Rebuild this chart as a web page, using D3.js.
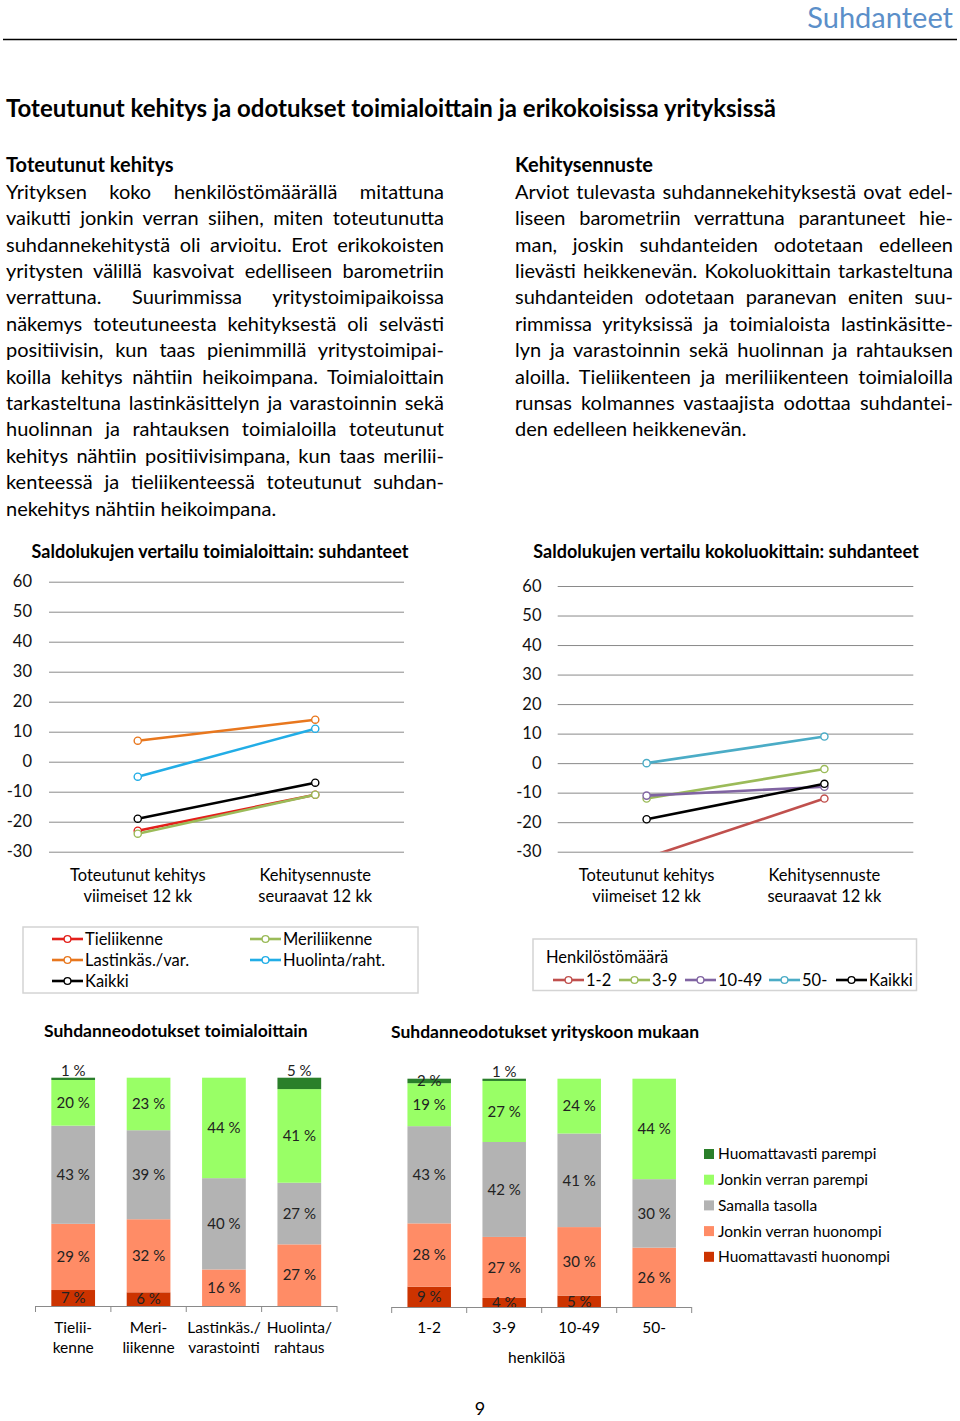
<!doctype html>
<html>
<head>
<meta charset="UTF-8">
<title>Suhdanteet</title>
<script src="https://d3js.org/d3.v7.min.js"></script>
<style>
  body { margin: 0; background: #fff; }
  svg { display: block; font-family: Lato, "Open Sans", sans-serif; }
</style>
</head>
<body>
<svg id="page" width="960" height="1421"></svg>
<script>
// ---- text ----
var pageTitle = "Suhdanteet";
var mainTitle = "Toteutunut kehitys ja odotukset toimialoittain ja erikokoisissa yrityksissä";
var leftHead = "Toteutunut kehitys";
var leftLines = [
  "Yrityksen koko henkilöstömäärällä mitattuna",
  "vaikutti jonkin verran siihen, miten toteutunutta",
  "suhdannekehitystä oli arvioitu. Erot erikokoisten",
  "yritysten välillä kasvoivat edelliseen barometriin",
  "verrattuna. Suurimmissa yritystoimipaikoissa",
  "näkemys toteutuneesta kehityksestä oli selvästi",
  "positiivisin, kun taas pienimmillä yritystoimipai-",
  "koilla kehitys nähtiin heikoimpana. Toimialoittain",
  "tarkasteltuna lastinkäsittelyn ja varastoinnin sekä",
  "huolinnan ja rahtauksen toimialoilla toteutunut",
  "kehitys nähtiin positiivisimpana, kun taas merilii-",
  "kenteessä ja tieliikenteessä toteutunut suhdan-",
  "nekehitys nähtiin heikoimpana."
];
var rightHead = "Kehitysennuste";
var rightLines = [
  "Arviot tulevasta suhdannekehityksestä ovat edel-",
  "liseen barometriin verrattuna parantuneet hie-",
  "man, joskin suhdanteiden odotetaan edelleen",
  "lievästi heikkenevän. Kokoluokittain tarkasteltuna",
  "suhdanteiden odotetaan paranevan eniten suu-",
  "rimmissa yrityksissä ja toimialoista lastinkäsitte-",
  "lyn ja varastoinnin sekä huolinnan ja rahtauksen",
  "aloilla. Tieliikenteen ja meriliikenteen toimialoilla",
  "runsas kolmannes vastaajista odottaa suhdantei-",
  "den edelleen heikkenevän."
];

// ---- line charts ----
var lineCats = [["Toteutunut kehitys", "viimeiset 12 kk"], ["Kehitysennuste", "seuraavat 12 kk"]];
var yTicks = [60, 50, 40, 30, 20, 10, 0, -10, -20, -30];

var branchNames = ["Tieliikenne", "Meriliikenne", "Lastinkäs./var.", "Huolinta/raht.", "Kaikki"];
var branchValues = [[-23, -11], [-24, -11], [7, 14], [-5, 11], [-19, -7]];
var branchColors = ["#e3201b", "#9bbb59", "#e8771e", "#22ade6", "#000000"];

var sizeNames = ["1-2", "3-9", "10-49", "50-", "Kaikki"];
var sizeValues = [[-32, -12], [-12, -2], [-11, -8], [0, 9], [-19, -7]];
var sizeColors = ["#c0504d", "#9bbb59", "#8064a2", "#4bacc6", "#000000"];

// ---- stacked bars ----
var levelNames = ["Huomattavasti parempi", "Jonkin verran parempi", "Samalla tasolla", "Jonkin verran huonompi", "Huomattavasti huonompi"];
var levelColors = ["#2a7f2a", "#99ff66", "#b3b3b3", "#ff8c66", "#cc3300"];

var branchCats = [["Tielii-", "kenne"], ["Meri-", "liikenne"], ["Lastinkäs./", "varastointi"], ["Huolinta/", "rahtaus"]];
var branchMuchBetter = [1, 0, 0, 5];
var branchBetter = [20, 23, 44, 41];
var branchSame = [43, 39, 40, 27];
var branchWorse = [29, 32, 16, 27];
var branchMuchWorse = [7, 6, 0, 0];

var sizeCats = [["1-2"], ["3-9"], ["10-49"], ["50-"]];
var sizeMuchBetter = [2, 1, 0, 0];
var sizeBetter = [19, 27, 24, 44];
var sizeSame = [43, 42, 41, 30];
var sizeWorse = [28, 27, 30, 26];
var sizeMuchWorse = [9, 4, 5, 0];

var svg = d3.select("#page");
svg.append("rect").attr("width", 960).attr("height", 1421).attr("fill", "#fff");

// header
svg.append("text").attr("x", 953).attr("y", 28).attr("text-anchor", "end")
  .attr("font-size", 29).attr("fill", "#5b8fc9").text(pageTitle);
svg.append("line").attr("x1", 3).attr("x2", 957).attr("y1", 39.5).attr("y2", 39.5)
  .attr("stroke", "#000").attr("stroke-width", 1.5);
svg.append("text").attr("x", 6).attr("y", 109).attr("dy", "0.35em")
  .attr("font-size", 24).attr("font-weight", "bold").attr("fill", "#000").text(mainTitle);

// paragraphs
function paragraph(x, width, head, lines) {
  var g = svg.append("g").attr("font-size", 20).attr("fill", "#000");
  g.append("text").attr("x", x).attr("y", 165).attr("dy", "0.35em")
    .attr("font-weight", "bold").text(head);
  lines.forEach(function(s, i) {
    var t = g.append("text").attr("x", x).attr("y", 191.7 + i * 26.4).attr("dy", "0.35em").text(s);
    if (i < lines.length - 1) {
      var nat = t.node().getComputedTextLength();
      var n = (s.match(/ /g) || []).length;
      if (n > 0) t.attr("word-spacing", (width - nat) / n);
    }
  });
}
paragraph(6, 438, leftHead, leftLines);
paragraph(515, 438, rightHead, rightLines);

// line charts
function lineChart(opt) {
  var g = svg.append("g");
  g.append("text").attr("x", opt.titleX).attr("y", 552).attr("dy", "0.35em")
    .attr("text-anchor", "middle").attr("font-size", 18).attr("font-weight", "bold")
    .text(opt.title);

  var y = d3.scaleLinear().domain([-30, 60]).range([opt.bottom, opt.top]);
  var x = d3.scalePoint().domain([0, 1]).range([opt.left, opt.right]).padding(0.5);

  var ax = g.append("g").attr("transform", "translate(" + opt.left + ",0)")
    .call(d3.axisLeft(y).tickValues(yTicks).tickFormat(String)
      .tickSize(-(opt.right - opt.left)).tickPadding(opt.left - opt.labelX));
  ax.select(".domain").remove();
  ax.selectAll(".tick line").attr("stroke", "#8a8a8a").attr("stroke-width", 1);
  ax.selectAll(".tick text").attr("font-size", 16.5).attr("font-family", "Lato").attr("fill", "#111");

  lineCats.forEach(function(c, i) {
    c.forEach(function(s, j) {
      g.append("text").attr("x", x(i)).attr("y", 875 + j * 21).attr("dy", "0.35em")
        .attr("text-anchor", "middle").attr("font-size", 16.5).text(s);
    });
  });

  var clipId = "clip" + Math.round(opt.left);
  g.append("clipPath").attr("id", clipId).append("rect")
    .attr("x", opt.left).attr("y", opt.top - 5).attr("width", opt.right - opt.left)
    .attr("height", opt.bottom - opt.top + 5);
  var plot = g.append("g").attr("clip-path", "url(#" + clipId + ")");
  var line = d3.line().x(function(d, i) { return x(i); }).y(function(d) { return y(d); });
  opt.values.forEach(function(v, k) {
    plot.append("path").attr("d", line(v)).attr("fill", "none")
      .attr("stroke", opt.colors[k]).attr("stroke-width", 2.6);
  });
  opt.values.forEach(function(v, k) {
    plot.selectAll(null).data(v).enter().append("circle")
      .attr("cx", function(d, i) { return x(i); }).attr("cy", function(d) { return y(d); })
      .attr("r", 3.6).attr("fill", "#fff").attr("stroke", opt.colors[k]).attr("stroke-width", 1.4);
  });
}

lineChart({ title: "Saldolukujen vertailu toimialoittain: suhdanteet", titleX: 220,
  left: 49, right: 404, top: 581.7, bottom: 851.7, labelX: 32,
  values: branchValues, colors: branchColors });
lineChart({ title: "Saldolukujen vertailu kokoluokittain: suhdanteet", titleX: 726,
  left: 557.7, right: 913.3, top: 586, bottom: 851.7, labelX: 541.5,
  values: sizeValues, colors: sizeColors });

// legend sample
function legendItem(g, x, y, label, color) {
  g.append("line").attr("x1", x).attr("x2", x + 31).attr("y1", y).attr("y2", y)
    .attr("stroke", color).attr("stroke-width", 2.6);
  g.append("circle").attr("cx", x + 15.5).attr("cy", y).attr("r", 3.4)
    .attr("fill", "#fff").attr("stroke", color).attr("stroke-width", 1.4);
  g.append("text").attr("x", x + 33).attr("y", y).attr("dy", "0.35em")
    .attr("font-size", 16.5).text(label);
}

var lg1 = svg.append("g");
lg1.append("rect").attr("x", 23).attr("y", 927).attr("width", 395).attr("height", 66)
  .attr("fill", "none").attr("stroke", "#d4d4d4").attr("stroke-width", 1.5);
var lg1Pos = [[52, 939], [250, 939], [52, 960], [250, 960], [52, 981]];
branchNames.forEach(function(n, i) { legendItem(lg1, lg1Pos[i][0], lg1Pos[i][1], n, branchColors[i]); });

var lg2 = svg.append("g");
lg2.append("rect").attr("x", 533).attr("y", 939).attr("width", 383.5).attr("height", 51.5)
  .attr("fill", "none").attr("stroke", "#d4d4d4").attr("stroke-width", 1.5);
lg2.append("text").attr("x", 546).attr("y", 957.5).attr("dy", "0.35em").attr("font-size", 16.5).text("Henkilöstömäärä");
var lg2X = [553, 619, 685, 769, 836];
sizeNames.forEach(function(n, i) { legendItem(lg2, lg2X[i], 980, n, sizeColors[i]); });

// stacked bars
function barChart(opt) {
  var g = svg.append("g");
  g.append("text").attr("x", opt.titleX).attr("y", opt.titleY).attr("dy", "0.35em")
    .attr("font-size", 17.5).attr("font-weight", "bold").text(opt.title);

  var keys = [4, 3, 2, 1, 0];  // bottom to top
  var rows = opt.cats.map(function(c, i) {
    var r = { i: i };
    opt.series.forEach(function(s, k) { r[k] = s[i]; });
    return r;
  });
  var stack = d3.stack().keys(keys).offset(d3.stackOffsetExpand)(rows);

  var x = d3.scaleBand().domain(d3.range(opt.cats.length)).range([opt.x0, opt.x1])
    .paddingInner(0.42).paddingOuter(0.21);
  var y = d3.scaleLinear().domain([0, 1]).range([opt.bottom, opt.top]);

  stack.forEach(function(layer) {
    var k = layer.key;
    g.selectAll(null).data(layer).enter().append("rect")
      .attr("x", function(d) { return x(d.data.i); })
      .attr("width", x.bandwidth())
      .attr("y", function(d) { return y(d[1]); })
      .attr("height", function(d) { return y(d[0]) - y(d[1]); })
      .attr("fill", levelColors[k]);
  });
  stack.forEach(function(layer) {
    var k = layer.key;
    g.selectAll(null).data(layer.filter(function(d) { return d.data[k] > 0; })).enter().append("text")
      .attr("x", function(d) { return x(d.data.i) + x.bandwidth() / 2; })
      .attr("y", function(d) {
        var c = (y(d[0]) + y(d[1])) / 2;
        if (k === 0 && d.data[k] <= 5 && d.data[k] !== 2) return y(1) - 7;
        return c;
      })
      .attr("dy", "0.35em").attr("text-anchor", "middle").attr("font-size", 15).attr("fill", "#222")
      .text(function(d) { return d.data[k] + " %"; });
  });

  // axis
  g.append("line").attr("x1", opt.x0).attr("x2", opt.x1).attr("y1", opt.bottom + 0.5).attr("y2", opt.bottom + 0.5)
    .attr("stroke", "#8a8a8a");
  d3.range(opt.cats.length + 1).forEach(function(i) {
    var tx = opt.x0 + i * x.step();
    g.append("line").attr("x1", tx).attr("x2", tx).attr("y1", opt.bottom).attr("y2", opt.bottom + 6)
      .attr("stroke", "#8a8a8a");
  });
  opt.cats.forEach(function(c, i) {
    c.forEach(function(s, j) {
      g.append("text").attr("x", x(i) + x.bandwidth() / 2).attr("y", 1328 + j * 19.5).attr("dy", "0.35em")
        .attr("text-anchor", "middle").attr("font-size", 15.5).text(s);
    });
  });
  if (opt.axisTitle) {
    g.append("text").attr("x", (opt.x0 + opt.x1) / 2 - 5).attr("y", 1358).attr("dy", "0.35em")
      .attr("text-anchor", "middle").attr("font-size", 15.5).text(opt.axisTitle);
  }
}

barChart({ title: "Suhdanneodotukset toimialoittain", titleX: 44, titleY: 1031,
  x0: 35.5, x1: 337, top: 1077.7, bottom: 1306, cats: branchCats,
  series: [branchMuchBetter, branchBetter, branchSame, branchWorse, branchMuchWorse] });
barChart({ title: "Suhdanneodotukset yrityskoon mukaan", titleX: 391, titleY: 1032,
  x0: 391.7, x1: 691.7, top: 1078.7, bottom: 1307, cats: sizeCats, axisTitle: "henkilöä",
  series: [sizeMuchBetter, sizeBetter, sizeSame, sizeWorse, sizeMuchWorse] });

// bar legend
var lg3 = svg.append("g");
levelNames.forEach(function(n, i) {
  var yy = 1154 + i * 25.7;
  lg3.append("rect").attr("x", 704).attr("y", yy - 5).attr("width", 10).attr("height", 10).attr("fill", levelColors[i]);
  lg3.append("text").attr("x", 718).attr("y", yy).attr("dy", "0.35em").attr("font-size", 15.5).text(n);
});

// page number
svg.append("text").attr("x", 480).attr("y", 1409).attr("dy", "0.35em").attr("text-anchor", "middle")
  .attr("font-size", 18).text("9");
</script>
</body>
</html>
